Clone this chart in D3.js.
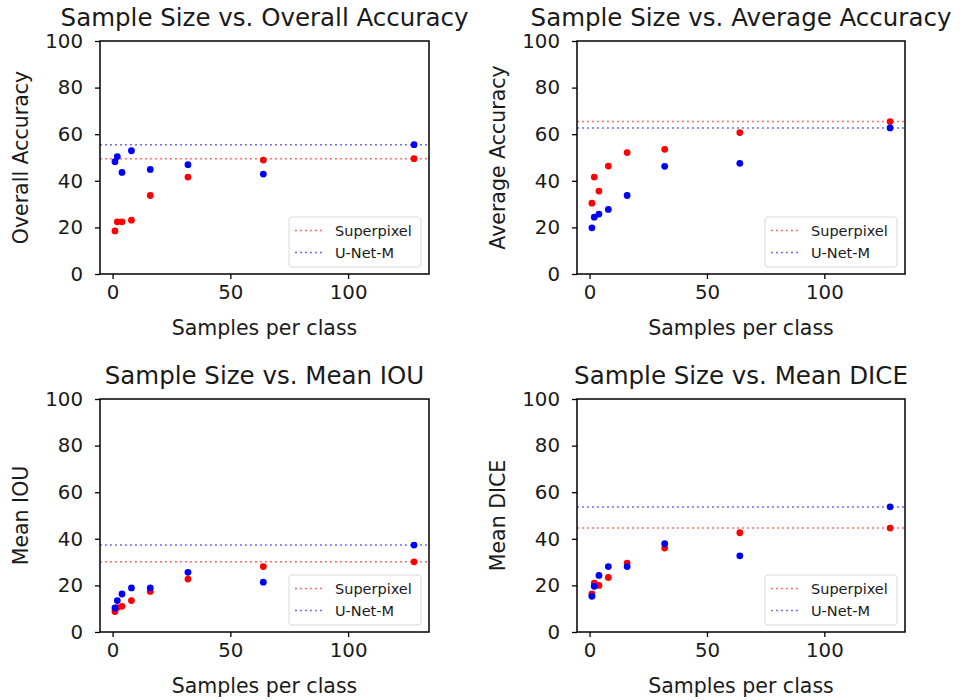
<!DOCTYPE html>
<html><head><meta charset="utf-8">
<script src="https://cdn.jsdelivr.net/npm/d3@7"></script>
<style>body{margin:0;background:#fff;} text{font-family:"DejaVu Sans",sans-serif;fill:#1a1a1a;}</style>
</head><body>
<svg id="c" width="963" height="700"></svg>
<script>
const samples = [1, 2, 4, 8, 16, 32, 64, 128];
const xTicks = [0, 50, 100];
const yTicks = [0, 20, 40, 60, 80, 100];
const legendLabels = ["Superpixel", "U-Net-M"];

const titles = ["Sample Size vs. Overall Accuracy", "Sample Size vs. Average Accuracy", "Sample Size vs. Mean IOU", "Sample Size vs. Mean DICE"];
const yLabels = ["Overall Accuracy", "Average Accuracy", "Mean IOU", "Mean DICE"];
const xLabel = "Samples per class";

const overallSuperpixel = [18.5, 22.4, 22.4, 23.1, 33.7, 41.6, 48.9, 49.5];
const overallUnet = [48.2, 50.4, 43.6, 52.9, 44.9, 46.9, 42.9, 55.5];
const averageSuperpixel = [30.4, 41.6, 35.6, 46.3, 52.1, 53.5, 60.7, 65.4];
const averageUnet = [19.8, 24.4, 25.7, 27.7, 33.7, 46.2, 47.5, 62.7];
const iouSuperpixel = [8.8, 10.5, 11.0, 13.5, 17.4, 22.7, 28.1, 30.1];
const iouUnet = [10.3, 13.5, 16.3, 18.9, 18.9, 25.6, 21.4, 37.3];
const diceSuperpixel = [16.3, 21.0, 20.0, 23.4, 29.6, 36.0, 42.6, 44.6];
const diceUnet = [15.3, 19.6, 24.3, 28.1, 28.1, 37.9, 32.7, 53.7];

const baselineSuperpixel = [49.5, 65.4, 30.1, 44.6];
const baselineUnet = [55.5, 62.7, 37.3, 53.7];

const panels = [
  {sp: overallSuperpixel, un: overallUnet},
  {sp: averageSuperpixel, un: averageUnet},
  {sp: iouSuperpixel, un: iouUnet},
  {sp: diceSuperpixel, un: diceUnet}
];
const boxes = [
  {l: 100, r: 429, t: 41, b: 274},
  {l: 577, r: 905, t: 41, b: 274},
  {l: 100, r: 429, t: 399, b: 632},
  {l: 577, r: 905, t: 399, b: 632}
];
const RED = "#ff0000", BLUE = "#0000ff";

const svg = d3.select("#c");
panels.forEach((p, i) => {
  const bx = boxes[i];
  const x = d3.scaleLinear().domain([-5.35, 134.35]).range([bx.l, bx.r]);
  const y = d3.scaleLinear().domain([0, 100]).range([bx.b, bx.t]);
  const g = svg.append("g");

  // baselines
  [[baselineSuperpixel[i], RED], [baselineUnet[i], BLUE]].forEach(([v, c]) => {
    g.append("line").attr("x1", bx.l).attr("x2", bx.r).attr("y1", y(v)).attr("y2", y(v))
      .attr("stroke", c).attr("stroke-width", 1.5).attr("stroke-dasharray", "1.9,3.1").attr("opacity", 0.6);
  });

  // points
  g.selectAll(".sp").data(samples).enter().append("circle")
    .attr("cx", d => x(d)).attr("cy", (d, j) => y(p.sp[j])).attr("r", 3.4).attr("fill", RED);
  g.selectAll(".un").data(samples).enter().append("circle")
    .attr("cx", d => x(d)).attr("cy", (d, j) => y(p.un[j])).attr("r", 3.4).attr("fill", BLUE);

  // axes
  const xa = g.append("g").attr("transform", `translate(0,${bx.b})`)
    .call(d3.axisBottom(x).tickValues(xTicks).tickSize(5).tickPadding(6).tickFormat(d3.format("d")));
  const ya = g.append("g").attr("transform", `translate(${bx.l},0)`)
    .call(d3.axisLeft(y).tickValues(yTicks).tickSize(5).tickPadding(12).tickFormat(d3.format("d")));
  [xa, ya].forEach(a => {
    a.select(".domain").remove();
    a.selectAll("line").attr("stroke", "#000").attr("stroke-width", 1.3);
    a.selectAll("text").style("font-size", "19.8px").style("font-family", "DejaVu Sans").attr("fill", "#1a1a1a");
  });

  // frame
  g.append("rect").attr("x", bx.l).attr("y", bx.t).attr("width", bx.r - bx.l).attr("height", bx.b - bx.t)
    .attr("fill", "none").attr("stroke", "#000").attr("stroke-width", 1.5);

  // title
  g.append("text").attr("x", (bx.l + bx.r) / 2).attr("y", bx.t - 15).attr("text-anchor", "middle")
    .style("font-size", "24.5px").text(titles[i]);
  // x label
  g.append("text").attr("x", (bx.l + bx.r) / 2).attr("y", bx.b + 61).attr("text-anchor", "middle")
    .style("font-size", "20.5px").text(xLabel);
  // y label
  g.append("text").attr("transform", `translate(${bx.l - 72},${(bx.t + bx.b) / 2}) rotate(-90)`)
    .attr("text-anchor", "middle").style("font-size", "20.5px").text(yLabels[i]);

  // legend
  const lg = g.append("g").attr("transform", `translate(${bx.r - 140},${bx.b - 57})`);
  lg.append("rect").attr("x", 0).attr("y", 0).attr("width", 132).attr("height", 50).attr("rx", 3)
    .attr("fill", "#fff").attr("fill-opacity", 0.8).attr("stroke", "#d9d9d9").attr("stroke-width", 1);
  legendLabels.forEach((lab, k) => {
    const cy = 13.5 + k * 22;
    lg.append("line").attr("x1", 6).attr("x2", 36).attr("y1", cy).attr("y2", cy)
      .attr("stroke", k === 0 ? RED : BLUE).attr("stroke-width", 1.5).attr("stroke-dasharray", "1.9,3.1").attr("opacity", 0.6);
    lg.append("text").attr("x", 46).attr("y", cy).attr("dy", "0.35em").style("font-size", "14.5px").text(lab);
  });
});
</script>
</body></html>
